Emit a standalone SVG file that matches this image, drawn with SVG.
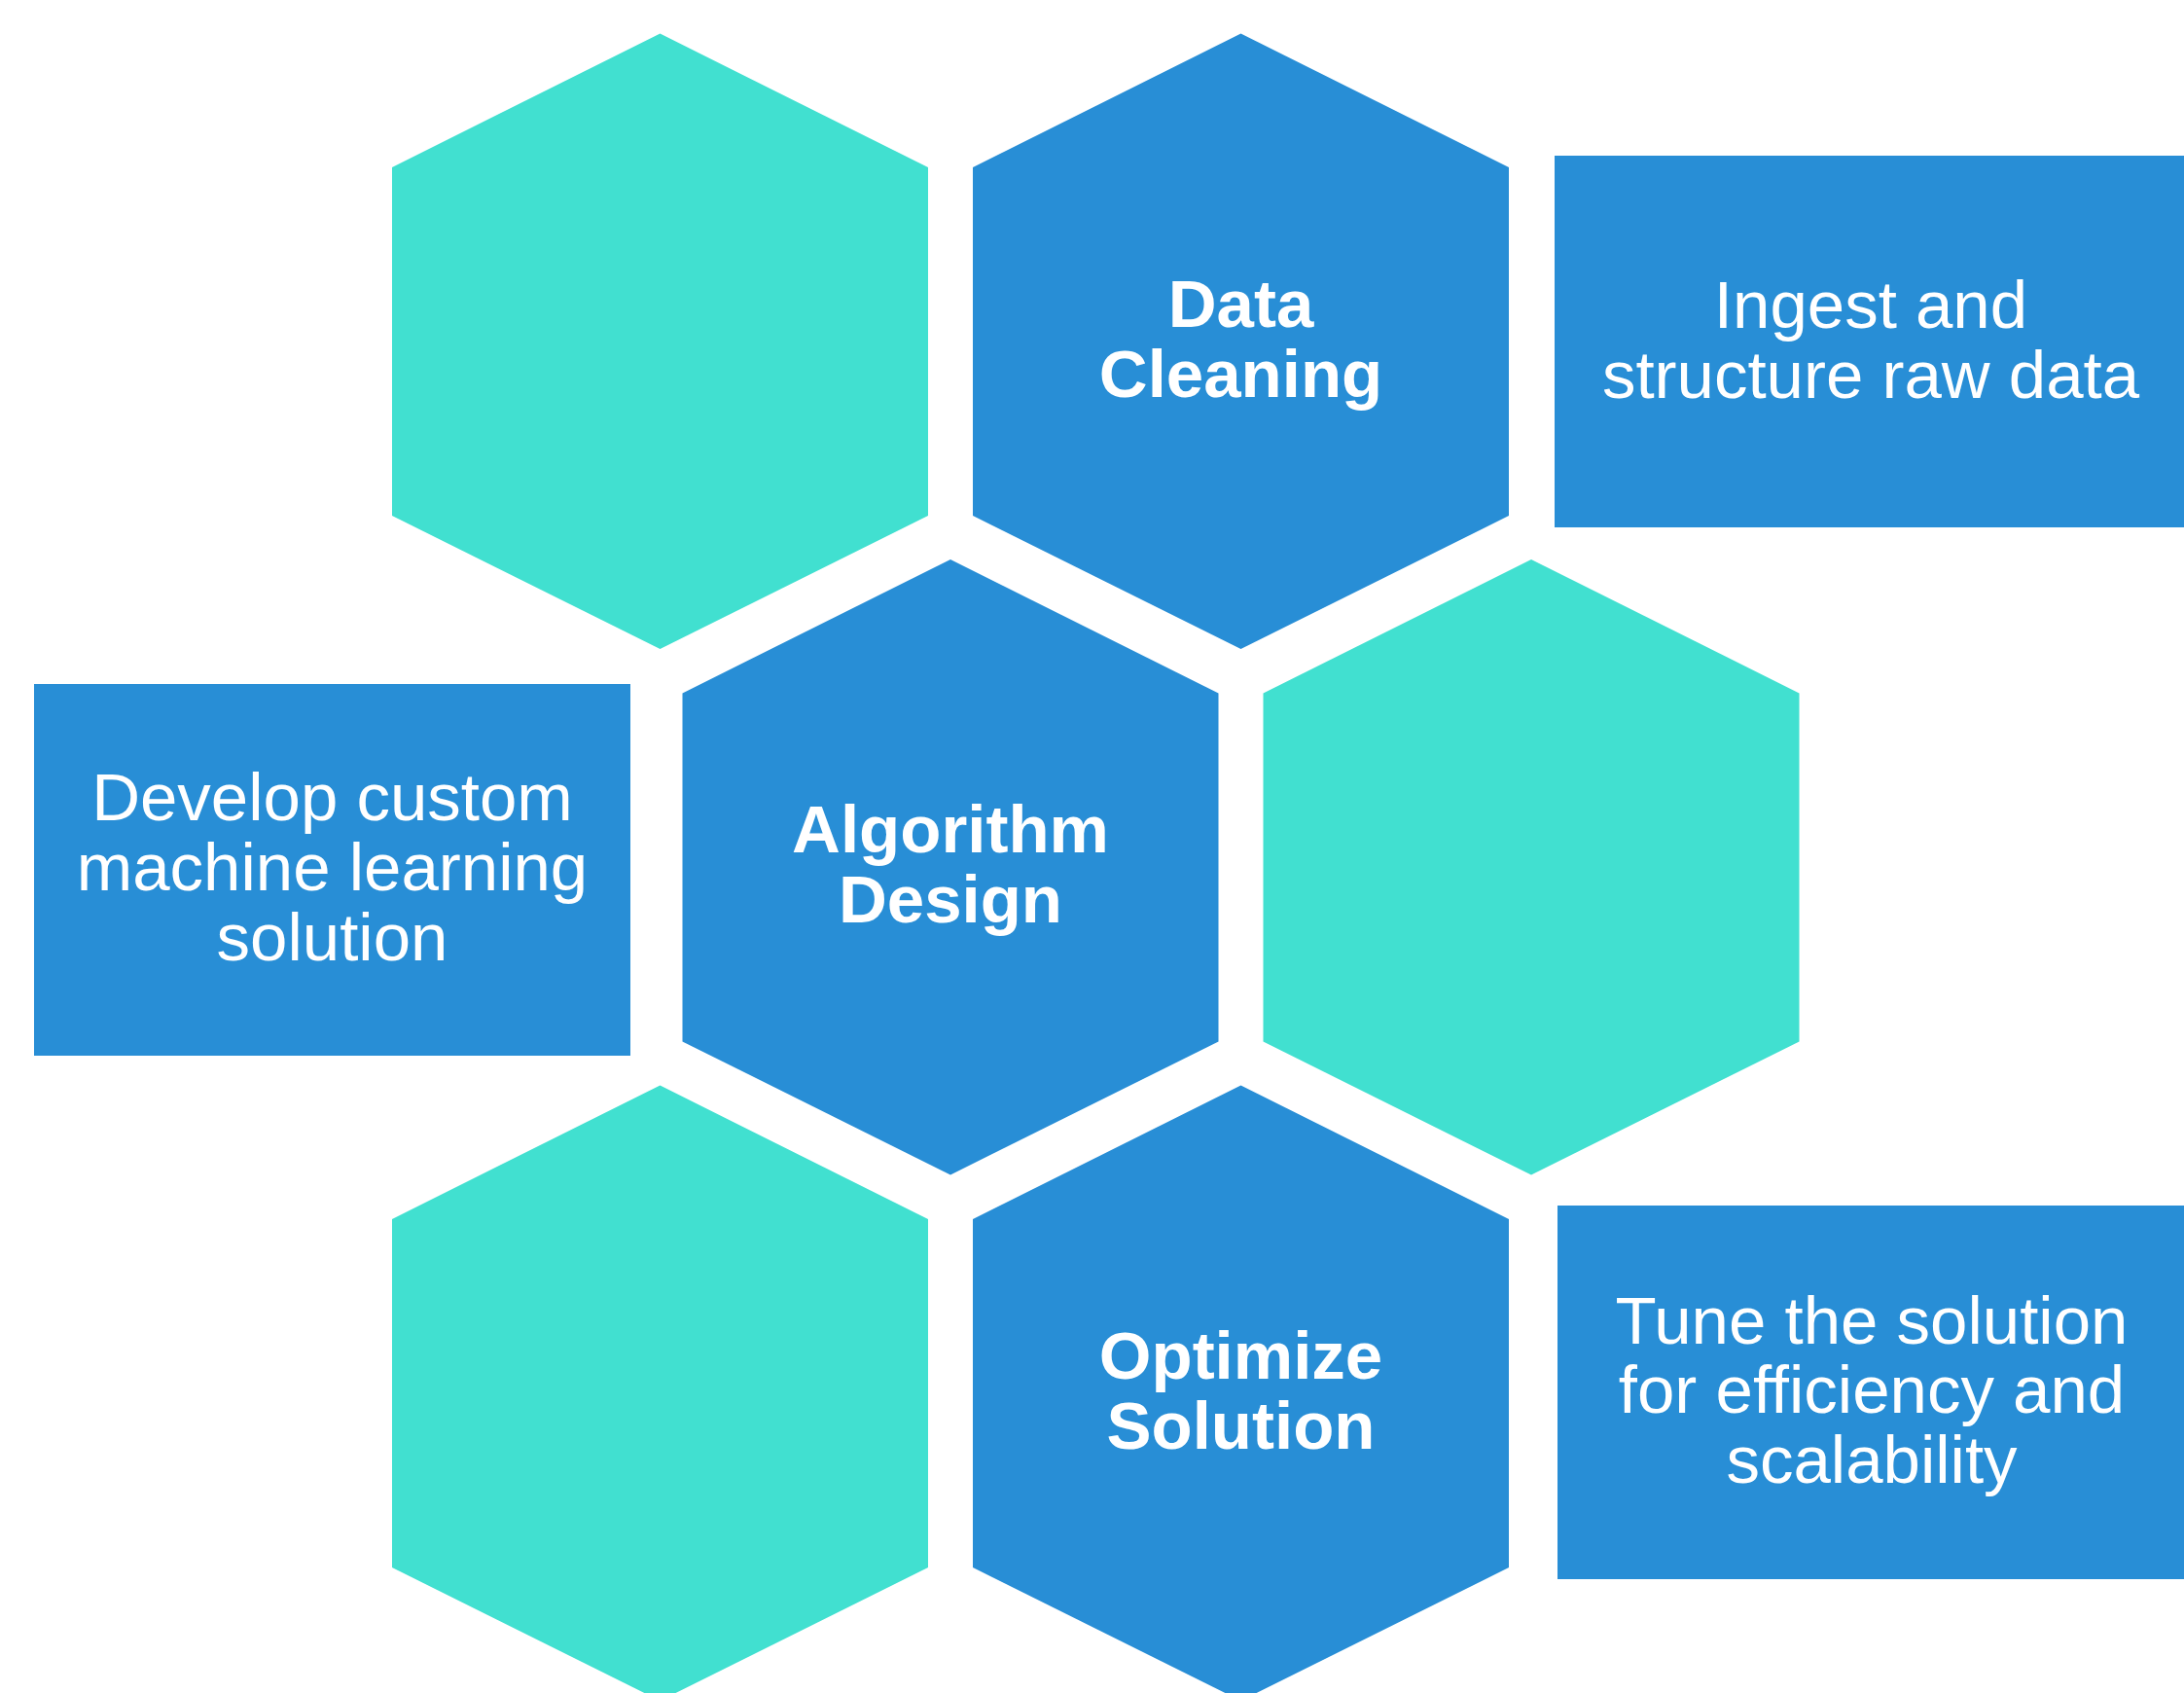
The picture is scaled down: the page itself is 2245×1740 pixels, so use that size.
<svg xmlns="http://www.w3.org/2000/svg" width="2245" height="1740" viewBox="0 0 2245 1740">
<style>
.blue{fill:#288ED6}
.teal{fill:#41E0D0}
.lbl{font-family:"Liberation Sans",Arial,sans-serif;font-weight:bold;font-size:69px;fill:#FFFFFF;text-anchor:middle}
.txt{font-family:"Liberation Sans",Arial,sans-serif;font-size:69px;fill:#FFFFFF;text-anchor:middle}
</style>
<rect width="2245" height="1740" fill="#FFFFFF"/>
<g id="hex-a"><polygon class="teal" points="678.5,34.5 954,172 954,530 678.5,667 403,530 403,172"/></g>
<g id="hex-data-cleaning"><polygon class="blue" points="1275.5,34.5 1551,172 1551,530 1275.5,667 1000,530 1000,172"/>
<text class="lbl" x="1275.5" y="336">Data</text><text class="lbl" x="1275.5" y="408">Cleaning</text></g>
<g id="box-ingest"><rect class="blue" x="1598" y="160" width="650" height="382"/>
<text class="txt" x="1923" y="337">Ingest and</text><text class="txt" x="1923" y="409">structure raw data</text></g>
<g id="box-develop"><rect class="blue" x="35" y="703" width="613" height="382"/>
<text class="txt" x="341.5" y="843">Develop custom</text><text class="txt" x="341.5" y="915">machine learning</text><text class="txt" x="341.5" y="987">solution</text></g>
<g id="hex-algorithm-design"><polygon class="blue" points="977,575 1252.5,712.5 1252.5,1070.5 977,1207.5 701.5,1070.5 701.5,712.5"/>
<text class="lbl" x="977" y="876">Algorithm</text><text class="lbl" x="977" y="948">Design</text></g>
<g id="hex-d"><polygon class="teal" points="1574,575 1849.5,712.5 1849.5,1070.5 1574,1207.5 1298.5,1070.5 1298.5,712.5"/></g>
<g id="hex-e"><polygon class="teal" points="678.5,1115.5 954,1253 954,1611 678.5,1748 403,1611 403,1253"/></g>
<g id="hex-optimize-solution"><polygon class="blue" points="1275.5,1115.5 1551,1253 1551,1611 1275.5,1748 1000,1611 1000,1253"/>
<text class="lbl" x="1275.5" y="1416.5">Optimize</text><text class="lbl" x="1275.5" y="1488.5">Solution</text></g>
<g id="box-tune"><rect class="blue" x="1601" y="1239" width="647" height="384"/>
<text class="txt" x="1924" y="1381">Tune the solution</text><text class="txt" x="1924" y="1452">for efficiency and</text><text class="txt" x="1924" y="1524">scalability</text></g>
<g id="connectors"></g>
</svg>
